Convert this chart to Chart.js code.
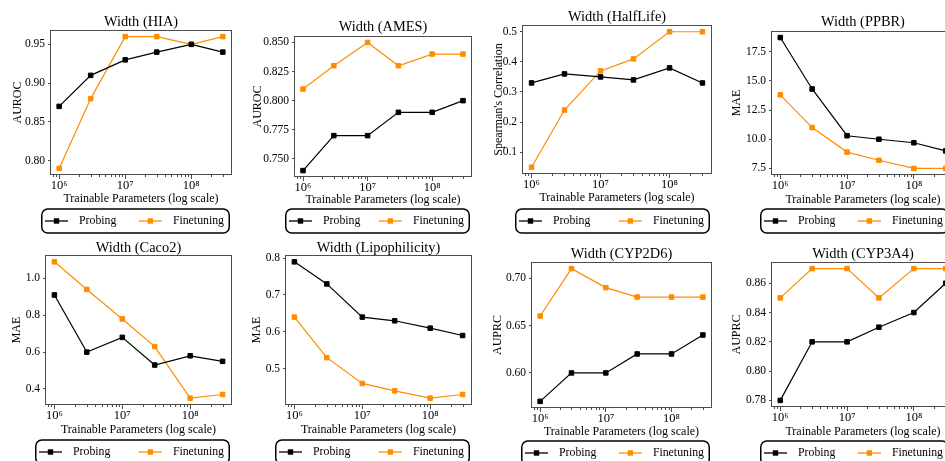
<!DOCTYPE html>
<html><head><meta charset="utf-8">
<script src="https://cdn.jsdelivr.net/npm/chart.js@4.4.1/dist/chart.umd.min.js"></script>
<style>
html,body{margin:0;padding:0;background:#fff;overflow:hidden;width:945px;height:461px;position:relative;}
canvas{position:absolute;}
</style></head><body>
<script>
// ---------- DATA ----------
const xParams = [1e6, 3e6, 1e7, 3e7, 1e8, 3e8];
const xTickValues = [1e6, 1e7, 1e8];
const xTickLabels = ['10\u2076', '10\u2077', '10\u2078'];
const xAxisTitle = 'Trainable Parameters (log scale)';
const seriesNames = ['Probing', 'Finetuning'];

const panelTitles = ['Width (HIA)', 'Width (AMES)', 'Width (HalfLife)', 'Width (PPBR)',
                     'Width (Caco2)', 'Width (Lipophilicity)', 'Width (CYP2D6)', 'Width (CYP3A4)'];
const yAxisTitles = ['AUROC', 'AUROC', "Spearman's Correlation", 'MAE', 'MAE', 'MAE', 'AUPRC', 'AUPRC'];

const hiaProbing = [0.87, 0.91, 0.93, 0.94, 0.95, 0.94];
const hiaFinetuning = [0.79, 0.88, 0.96, 0.96, 0.95, 0.96];
const amesProbing = [0.74, 0.77, 0.77, 0.79, 0.79, 0.80];
const amesFinetuning = [0.81, 0.83, 0.85, 0.83, 0.84, 0.84];
const halfLifeProbing = [0.33, 0.36, 0.35, 0.34, 0.38, 0.33];
const halfLifeFinetuning = [0.05, 0.24, 0.37, 0.41, 0.50, 0.50];
const ppbrProbing = [18.7, 14.3, 10.3, 10.0, 9.7, 9.0];
const ppbrFinetuning = [13.8, 11.0, 8.9, 8.2, 7.5, 7.5];
const caco2Probing = [0.91, 0.60, 0.68, 0.53, 0.58, 0.55];
const caco2Finetuning = [1.09, 0.94, 0.78, 0.63, 0.35, 0.37];
const lipoProbing = [0.79, 0.73, 0.64, 0.63, 0.61, 0.59];
const lipoFinetuning = [0.64, 0.53, 0.46, 0.44, 0.42, 0.43];
const cyp2d6Probing = [0.57, 0.60, 0.60, 0.62, 0.62, 0.64];
const cyp2d6Finetuning = [0.66, 0.71, 0.69, 0.68, 0.68, 0.68];
const cyp3a4Probing = [0.78, 0.82, 0.82, 0.83, 0.84, 0.86];
const cyp3a4Finetuning = [0.85, 0.87, 0.87, 0.85, 0.87, 0.87];

const yTickLabelsHIA = ['0.80', '0.85', '0.90', '0.95'];
const yTickLabelsAMES = ['0.750', '0.775', '0.800', '0.825', '0.850'];
const yTickLabelsHalfLife = ['0.1', '0.2', '0.3', '0.4', '0.5'];
const yTickLabelsPPBR = ['7.5', '10.0', '12.5', '15.0', '17.5'];
const yTickLabelsCaco2 = ['0.4', '0.6', '0.8', '1.0'];
const yTickLabelsLipo = ['0.5', '0.6', '0.7', '0.8'];
const yTickLabelsCYP2D6 = ['0.60', '0.65', '0.70'];
const yTickLabelsCYP3A4 = ['0.78', '0.80', '0.82', '0.84', '0.86'];

const probingSeries = [hiaProbing, amesProbing, halfLifeProbing, ppbrProbing, caco2Probing, lipoProbing, cyp2d6Probing, cyp3a4Probing];
const finetuningSeries = [hiaFinetuning, amesFinetuning, halfLifeFinetuning, ppbrFinetuning, caco2Finetuning, lipoFinetuning, cyp2d6Finetuning, cyp3a4Finetuning];
const yTickLabelSets = [yTickLabelsHIA, yTickLabelsAMES, yTickLabelsHalfLife, yTickLabelsPPBR, yTickLabelsCaco2, yTickLabelsLipo, yTickLabelsCYP2D6, yTickLabelsCYP3A4];

// ---------- LAYOUT (page pixel positions) ----------
const panelBoxes = [
  {cx:0,   cy:0,   cw:236, ch:236, L:51,  T:30,  R:233, B:175, titleY:22.5,  yTitleX:18,    xTitleY:199, legL:41,  legR:230, legY:221},
  {cx:236, cy:0,   cw:240, ch:236, L:295, T:36,  R:473, B:177, titleY:27.5,  yTitleX:258,   xTitleY:200, legL:285, legR:470, legY:221},
  {cx:476, cy:0,   cw:240, ch:236, L:523, T:25,  R:713, B:174, titleY:17.5,  yTitleX:498.5, xTitleY:198, legL:515, legR:710, legY:221},
  {cx:716, cy:0,   cw:245, ch:236, L:772, T:31,  R:954, B:175, titleY:22.5,  yTitleX:736.5, xTitleY:200, legL:760, legR:949, legY:221},
  {cx:0,   cy:236, cw:236, ch:225, L:46,  T:255, R:233, B:405, titleY:248.5, yTitleX:17,    xTitleY:430, legL:35,  legR:230, legY:452},
  {cx:236, cy:236, cw:240, ch:225, L:286, T:255, R:473, B:405, titleY:248.5, yTitleX:257,   xTitleY:430, legL:275, legR:470, legY:452},
  {cx:476, cy:236, cw:240, ch:225, L:532, T:262, R:713, B:408, titleY:254,   yTitleX:498,   xTitleY:432, legL:521, legR:710, legY:453},
  {cx:716, cy:236, cw:245, ch:225, L:772, T:262, R:954, B:407, titleY:254,   yTitleX:737,   xTitleY:432, legL:760, legR:949, legY:453}
];

const FONT = '"Liberation Serif", "Times New Roman", serif';
const BLACK = '#000000';
const ORANGE = '#ff8c00';
const SPINE = '#4d4d4d';
Chart.defaults.font.family = FONT;
Chart.defaults.color = '#000000';

const decorPlugin = {
  id: 'decor',
  afterDraw(chart, args, o) {
    const {ctx, chartArea: a} = chart;
    const xs = chart.scales.x;
    ctx.save();
    // axes box
    ctx.strokeStyle = SPINE; ctx.lineWidth = 1;
    ctx.strokeRect(Math.round(a.left) - 0.5, Math.round(a.top) + 0.5, Math.round(a.right) - Math.round(a.left) + 1, Math.round(a.bottom) - Math.round(a.top) - 1);
    // minor ticks of log axis
    ctx.beginPath();
    for (let d = 5; d <= 8; d++) {
      for (let m = 2; m <= 9; m++) {
        const v = m * Math.pow(10, d);
        if (v < xs.min || v > xs.max) continue;
        const px = Math.round(xs.getPixelForValue(v)) + 0.5;
        ctx.moveTo(px, a.bottom); ctx.lineTo(px, a.bottom + 2);
      }
    }
    ctx.stroke();
    // legend
    const lg = o.leg;
    ctx.font = '11.8px ' + FONT;
    const ds = chart.data.datasets;
    const wLast = ctx.measureText(ds[1].label).width;
    ctx.strokeStyle = '#000'; ctx.lineWidth = 1.5;
    ctx.beginPath();
    ctx.roundRect(lg.left + 0.75, lg.y - 12, lg.right - lg.left - 1.5, 24, 6);
    ctx.stroke();
    const starts = [lg.left + 4, lg.right - 7 - wLast - 33];
    ds.forEach((d, k) => {
      const x0 = starts[k];
      ctx.strokeStyle = d.borderColor; ctx.lineWidth = 1.3;
      ctx.beginPath(); ctx.moveTo(x0, lg.y); ctx.lineTo(x0 + 23, lg.y); ctx.stroke();
      ctx.fillStyle = d.borderColor;
      ctx.fillRect(x0 + 11.5 - 2.7, lg.y - 2.7, 5.4, 5.4);
      ctx.fillStyle = '#000';
      ctx.textBaseline = 'middle'; ctx.textAlign = 'left';
      ctx.fillText(d.label, x0 + 34, lg.y);
    });
    ctx.restore();
  }
};

function padRange(arrs) {
  const all = [].concat(...arrs);
  const lo = Math.min(...all), hi = Math.max(...all);
  const m = (hi - lo) * 0.05;
  return [lo - m, hi + m];
}

const xLogMin = Math.pow(10, Math.log10(xParams[0]) - 0.05 * (Math.log10(xParams[5]) - Math.log10(xParams[0])));
const xLogMax = Math.pow(10, Math.log10(xParams[5]) + 0.05 * (Math.log10(xParams[5]) - Math.log10(xParams[0])));

panelBoxes.forEach((g, i) => {
  const cv = document.createElement('canvas');
  cv.width = g.cw; cv.height = g.ch;
  cv.style.left = g.cx + 'px'; cv.style.top = g.cy + 'px';
  cv.style.width = g.cw + 'px'; cv.style.height = g.ch + 'px';
  document.body.appendChild(cv);
  const [ymin, ymax] = padRange([probingSeries[i], finetuningSeries[i]]);
  const yLabels = yTickLabelSets[i];
  const yVals = yLabels.map(Number);
  const titleFs = 14.4, titleLh = titleFs * 0.5;
  const axFs = 12, axLh = axFs * 0.5;
  const mk = (vals, color, label) => ({
    label, data: xParams.map((x, k) => ({x, y: vals[k]})),
    borderColor: color, backgroundColor: color, borderWidth: 1.2,
    pointStyle: 'rect', pointRadius: 3.2, pointBorderWidth: 1,
    pointBackgroundColor: color, pointBorderColor: color, tension: 0, fill: false
  });
  new Chart(cv, {
    type: 'line',
    data: { datasets: [mk(probingSeries[i], BLACK, seriesNames[0]), mk(finetuningSeries[i], ORANGE, seriesNames[1])] },
    options: {
      responsive: false, animation: false, devicePixelRatio: 1,
      layout: { padding: { left: 0, top: 0, right: g.cw - (g.R - g.cx), bottom: 0 } },
      plugins: {
        legend: { display: false },
        tooltip: { enabled: false },
        title: {
          display: true, text: panelTitles[i], fullSize: false, color: '#000',
          font: { family: FONT, size: titleFs, weight: 'normal', lineHeight: 0.5 },
          padding: { top: (g.titleY - g.cy) - titleLh / 2, bottom: (g.T - g.titleY) - titleLh / 2 }
        },
        decor: { leg: { left: g.legL - g.cx, right: g.legR - g.cx, y: g.legY - g.cy } }
      },
      scales: {
        x: {
          type: 'logarithmic', min: xLogMin, max: xLogMax,
          afterFit: s => { s.height = g.ch - (g.B - g.cy); },
          afterBuildTicks: s => { s.ticks = xTickValues.map(v => ({value: v, major: true})); },
          ticks: { callback: (v, idx) => xTickLabels[idx], autoSkip: false, maxRotation: 0, padding: 0,
                   font: { family: FONT, size: 12.5, lineHeight: 1 }, color: '#000' },
          grid: { display: true, drawOnChartArea: false, drawTicks: true, tickLength: 4, color: SPINE },
          border: { display: false },
          title: { display: true, text: xAxisTitle, color: '#000',
                   font: { family: FONT, size: axFs, lineHeight: 0.5 },
                   padding: { top: 0, bottom: g.ch - axLh / 2 - (g.xTitleY - g.cy) } }
        },
        y: {
          type: 'linear', min: ymin, max: ymax,
          afterFit: s => { s.width = g.L - g.cx; },
          afterBuildTicks: s => { s.ticks = yVals.map(v => ({value: v})); },
          ticks: { callback: (v, idx) => yLabels[idx], padding: 3, autoSkip: false,
                   font: { family: FONT, size: 11.5, lineHeight: 1 }, color: '#000' },
          grid: { display: true, drawOnChartArea: false, drawTicks: true, tickLength: 3, color: SPINE },
          border: { display: false },
          title: { display: true, text: yAxisTitles[i], color: '#000',
                   font: { family: FONT, size: axFs, lineHeight: 0.5 },
                   padding: { top: (g.yTitleX - g.cx) - axLh / 2, bottom: 0 } }
        }
      }
    },
    plugins: [decorPlugin]
  });
});
</script>
</body></html>
